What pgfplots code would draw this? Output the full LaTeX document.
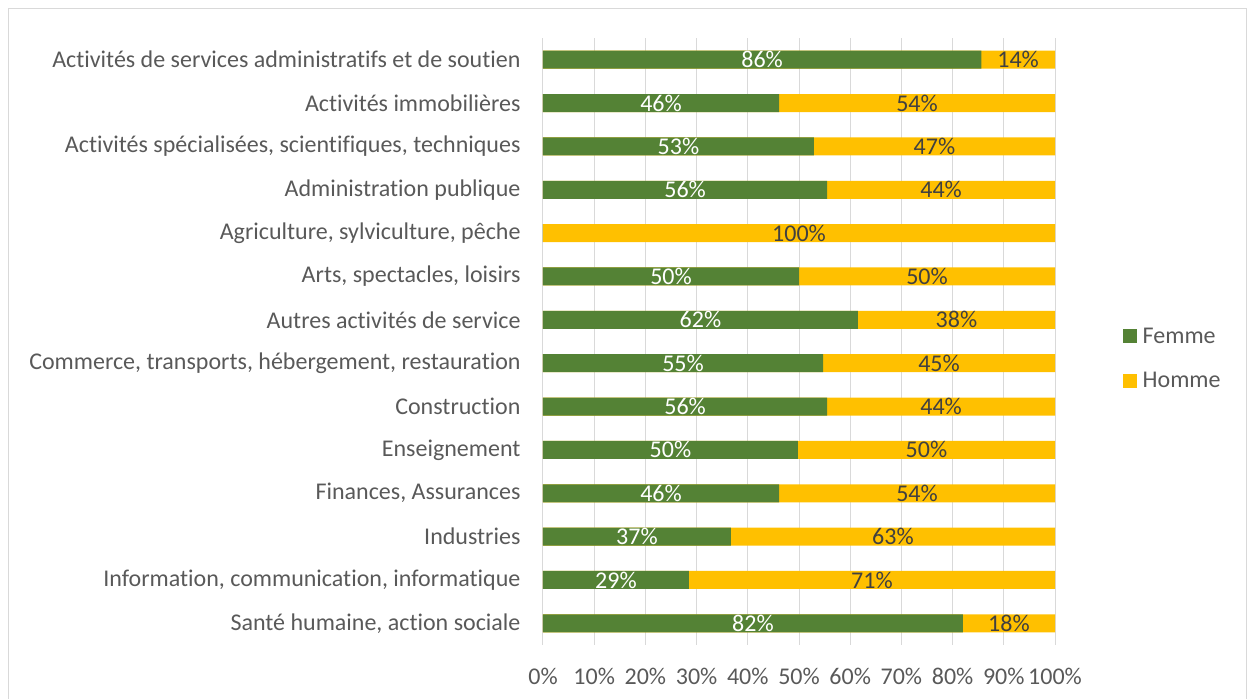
\documentclass[border=0pt]{standalone}
\usepackage{pgfplots}
\pgfplotsset{compat=1.18}
\usepackage{pgfplotstable}
\usepackage{fontspec}
\setmainfont{Carlito}[Ligatures=CommonOff]
\definecolor{femme}{HTML}{548235}
\definecolor{homme}{HTML}{FFC000}
\definecolor{txt}{HTML}{595959}
\definecolor{lab}{HTML}{404040}
\definecolor{gridc}{HTML}{D9D9D9}
\definecolor{framec}{HTML}{D9D9D9}
\newcommand{\cf}{\fontsize{24}{28}\selectfont}

\pgfplotstableread[col sep=comma]{
idx,f,h,fl,hl
0,85.6,100,86,14
1,46.1,100,46,54
2,52.9,100,53,47
3,55.5,100,56,44
4,0,100,0,100
5,50,100,50,50
6,61.5,100,62,38
7,54.7,100,55,45
8,55.5,100,56,44
9,49.8,100,50,50
10,46.1,100,46,54
11,36.7,100,37,63
12,28.5,100,29,71
13,82.0,100,82,18
}\data

\begin{document}
\begin{tikzpicture}
\useasboundingbox (0pt,0pt) rectangle (1251pt,-699pt);
\draw[framec, line width=1pt] (8.5pt,-8.5pt) rectangle (1246pt,-720pt);
\begin{axis}[
  at={(543pt,-645pt)}, anchor=south west,
  scale only axis, width=512pt, height=607pt,
  xmin=0, xmax=100, ymin=-0.5, ymax=13.5, y dir=reverse,
  axis line style={draw=none}, major tick length=0pt,
  xmajorgrids, grid style={gridc, line width=1pt},
  xtick={0,10,...,100},
  xticklabel={\pgfmathprintnumber{\tick}\%},
  /pgf/number format/assume math mode=true,
  xticklabel style={text=txt, font=\cf, yshift=-20pt},
  ytick={0,...,13},
  yticklabels={
    {Activités de services administratifs et de soutien},
    {Activités immobilières},
    {Activités spécialisées, scientifiques, techniques},
    {Administration publique},
    {Agriculture, sylviculture, pêche},
    {Arts, spectacles, loisirs},
    {Autres activités de service},
    {Commerce, transports, hébergement, restauration},
    {Construction},
    {Enseignement},
    {Finances, Assurances},
    {Industries},
    {Information, communication, informatique},
    {Santé humaine, action sociale}},
  yticklabel style={text=txt, font=\cf, xshift=-19pt},
  bar width=18pt,
  legend style={at={(1.133,0.472)}, anchor=west, draw=none, fill=none,
    font=\cf, text=txt, row sep=24pt, column sep=4pt, inner sep=0pt},
  legend cell align=left,
]
\addplot[forget plot, xbar, bar shift=0pt, fill=homme, draw=none] table[x=h, y=idx] {\data};
\addplot[forget plot, xbar, bar shift=0pt, fill=femme, draw=none] table[x=f, y=idx] {\data};
% labels
\addplot[forget plot, only marks, mark=*, mark size=0pt, mark options={draw=none, fill=none},
  restrict x to domain=0.1:100,
  nodes near coords={\pgfmathprintnumber{\pgfplotspointmeta}\%}, point meta=explicit,
  every node near coord/.style={anchor=center, text=white, font=\cf, inner sep=0pt}]
  table[x expr=\thisrow{f}/2, y=idx, meta=fl] {\data};
\addplot[forget plot, only marks, mark=*, mark size=0pt, mark options={draw=none, fill=none},
  nodes near coords={\pgfmathprintnumber{\pgfplotspointmeta}\%}, point meta=explicit,
  every node near coord/.style={anchor=center, text=lab, font=\cf, inner sep=0pt}]
  table[x expr=\thisrow{f}+(100-\thisrow{f})/2, y=idx, meta=hl] {\data};
\addlegendimage{legend image code/.code={\fill[femme] (0pt,-6.5pt) rectangle (13pt,6.5pt);}}
\addlegendentry{Femme}
\addlegendimage{legend image code/.code={\fill[homme] (0pt,-6.5pt) rectangle (13pt,6.5pt);}}
\addlegendentry{Homme}
\end{axis}
\end{tikzpicture}
\end{document}
